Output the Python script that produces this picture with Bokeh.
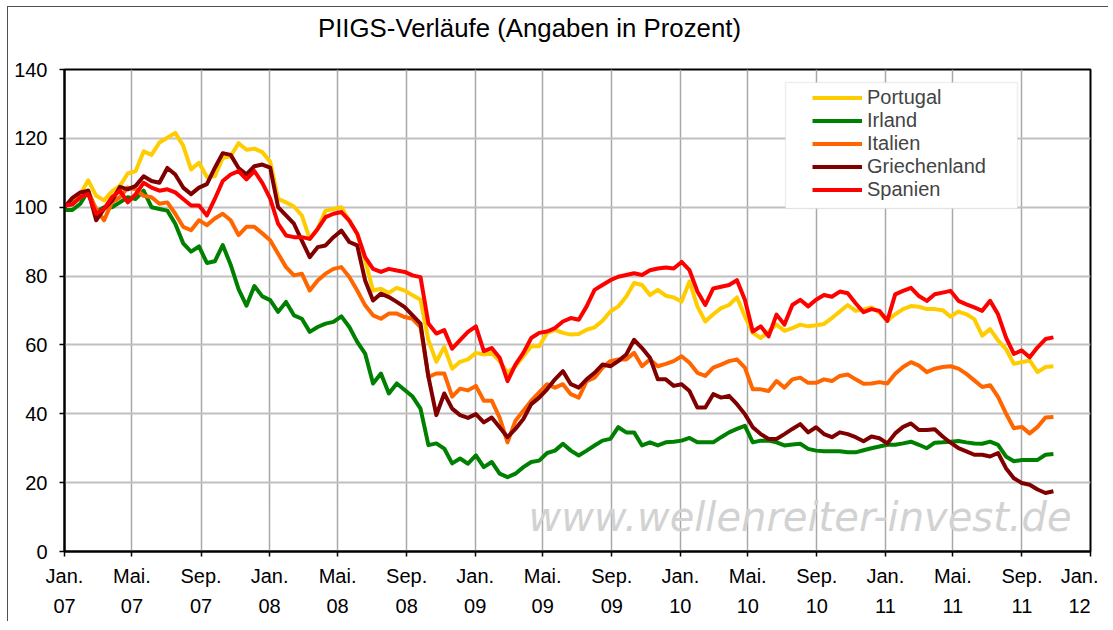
import pandas as pd
from bokeh.plotting import figure
from bokeh.layouts import column
from bokeh.models import (FixedTicker, Legend, LegendItem, Label, BoxAnnotation,
                          ColumnDataSource, Range1d, Div)
from bokeh.embed import file_html
from bokeh.resources import INLINE

# ---------------- data (biweekly) ----------------
dates = pd.date_range("2007-01-01", "2011-10-27", periods=126)

portugal = [100, 101.9, 103.8, 107.8, 103.3, 102, 104.6, 106.2, 109.8, 110.5,
            116.2, 115.2, 118.8, 120.2, 121.6, 117.9, 111, 112.9, 108.8, 109,
            114.3, 114.8, 118.6, 116.7, 117, 116,
            113.2, 102.4, 101.4, 100.2, 97.6, 90.8, 93.7, 99, 99.5, 100,
            96.1, 92.3, 84.5, 75.8, 76.3, 75.1, 76.6, 75.8, 74.4, 73.1,
            61.4, 55.1, 59.4, 53.1, 55.1,
            55.8, 57.7, 57.2, 57.7, 55.3, 51.9, 53.8, 56.7, 59.6, 59.6,
            63.5, 64.4, 63.5, 63, 63.2, 64.4, 65.1, 67, 69.7, 71.2,
            74, 78, 77.4, 74.5, 76,
            74.3, 73.8, 72.6, 78.4, 71.2, 66.8, 68.9, 70.7, 71.6, 73.8,
            68.3, 63.5, 62, 63.9, 65.9, 64.1, 64.9, 65.9, 65.4, 65.7,
            66.1, 67.8, 69.7, 71.6, 69.9,
            70.3, 70.9, 69.4, 67, 68.9, 70.4, 71.3, 71.1, 70.4, 70.4,
            70.1, 68.2, 69.7, 68.9, 67.5, 62.7, 64.6, 61.3, 58.8, 54.5,
            55, 55.5, 52.1, 53.6, 53.8]

irland = [99.2, 99.2, 101, 104.8, 98.6, 100, 100, 101.4, 102.9, 102.4,
          104.8, 100, 99.5, 99, 95.2, 89.5, 87.1, 88.6, 83.8, 84.3,
          89, 83.3, 76.2, 71.4, 77.1, 74.1,
          73, 69.6, 72.5, 68.6, 67.6, 63.8, 65.2, 66.2, 66.7, 68.3,
          65.2, 60.9, 57.5, 48.8, 51.7, 45.9, 48.8, 46.9, 45, 41.5,
          30.9, 31.4, 29.9, 25.6, 27,
          25.5, 27.9, 24.5, 26, 22.6, 21.6, 22.6, 24.5, 26, 26.4,
          28.6, 29.3, 31.3, 29.3, 27.9, 29.3, 30.8, 32.2, 32.7, 36.1,
          34.6, 34.6, 30.8, 31.7, 30.8,
          31.7, 31.9, 32.2, 33, 31.7, 31.7, 31.7, 33.2, 34.6, 35.6,
          36.5, 31.7, 32.2, 32.2, 31.7, 30.8, 31.1, 31.3, 29.8, 29.3,
          29.1, 29.1, 29.1, 28.8, 28.8,
          29.4, 30, 30.5, 31, 31, 31.4, 31.9, 31, 30, 31.6,
          31.7, 31.9, 32.1, 31.7, 31.4, 31.3, 31.9, 31, 27.6, 26.2,
          26.6, 26.6, 26.6, 28.1, 28.3]

italien = [100.5, 101.1, 102.9, 104.3, 99.5, 96.2, 101.4, 102.9, 105.7, 105.2,
           103.3, 102.9, 101, 101.4, 98.1, 94.3, 93.3, 96.2, 94.8, 96.7,
           98.1, 96.2, 91.9, 94.3, 94.3, 92.4,
           90.4, 86.5, 82.6, 80.2, 80.7, 75.8, 78.7, 80.7, 82.1, 82.6,
           79.7, 75.8, 71.5, 68.6, 67.6, 69.1, 69.1, 68.1, 67.6, 65.2,
           50.7, 51.7, 51.7, 45, 47.3,
           46.8, 48.1, 43.8, 43.8, 38.9, 31.7, 38, 40.9, 43.8, 46.2,
           48.6, 47.6, 48.6, 45.7, 44.7, 49.5, 50.5, 53.4, 55.3, 55.8,
           55.8, 57.7, 53.8, 55.8, 53.8,
           54.5, 55.3, 56.7, 54.8, 51.9, 51, 53.4, 54.3, 55.3, 55.8,
           53.4, 47.1, 47.1, 46.6, 49.5, 47.6, 50, 50.5, 49, 49,
           50, 49.5, 51, 51.4, 50,
           48.7, 48.8, 49.2, 48.8, 51.6, 53.6, 55, 54, 52.1, 53.1,
           53.6, 53.8, 53.1, 51.6, 49.7, 47.8, 48.3, 44.9, 40.1, 35.8,
           36.2, 34.3, 36.2, 38.9, 39.1]

griechenland = [100, 102.7, 104.3, 104.8, 96.2, 99.5, 101.9, 105.9, 105.2, 106.2,
                109, 107.6, 107.1, 111.4, 109.5, 105.7, 103.8, 105.7, 106.7, 111.4,
                115.7, 115.2, 111.4, 109.5, 111.9, 112.4,
                111.5, 100, 97.6, 95.2, 90.3, 85.5, 88.4, 88.9, 91.3, 93.2,
                89.9, 88.9, 78.7, 72.9, 74.9, 73.9, 72.5, 71, 68.6, 66.2,
                50.7, 39.6, 45.9, 41.5, 39.6,
                38.8, 39.9, 37.5, 38.9, 36.1, 33.2, 35.6, 38.5, 42.8, 44.7,
                47.1, 50, 52.4, 48.6, 47.6, 50, 51.9, 54.3, 53.8, 55.3,
                57.2, 61.5, 59.1, 56.3, 50,
                50, 48.1, 48.6, 46.6, 41.8, 41.8, 45.7, 44.7, 45.2, 42.8,
                39.9, 36.1, 34.1, 32.7, 32.7, 34.1, 35.6, 37, 34.6, 36.1,
                34.1, 33.2, 34.6, 34.1, 33.2,
                32, 33.4, 32.9, 31.4, 34.3, 36.2, 37.2, 35.3, 35.3, 35.5,
                33.4, 31.6, 30, 29.1, 28.1, 28.1, 27.6, 28.6, 24.2, 21.3,
                19.9, 19.4, 18, 17, 17.5]

spanien = [100.5, 100.8, 102.9, 103.8, 98.1, 99.5, 102.9, 104.8, 101.4, 103.8,
           107.1, 105.7, 104.8, 105.2, 104.3, 102.4, 100.5, 100.5, 97.6, 102.4,
           107.6, 109.5, 110.5, 108.1, 110.5, 107.1,
           102.5, 95.2, 91.8, 91.3, 91.3, 90.8, 93.7, 97.1, 98.1, 98.6,
           96.1, 92.3, 85.5, 82.1, 81.2, 82.1, 81.6, 81.2, 80.2, 79.7,
           66.2, 63.3, 64.3, 58.9, 61.4,
           63.8, 65.4, 58.2, 59.1, 56.3, 49.5, 54.3, 57.7, 62, 63.5,
           63.9, 64.9, 66.8, 67.8, 67.3, 71.2, 76, 77.4, 78.8, 79.8,
           80.3, 80.8, 80.3, 81.7, 82.2,
           82.5, 82.2, 84.1, 81.7, 75.5, 71.6, 76.4, 76.9, 77.4, 78.8,
           73.1, 63.9, 65.4, 62.5, 68.8, 65.9, 71.6, 73.1, 71.2, 73.1,
           74.5, 74, 75.5, 75, 72.1,
           69.5, 70.4, 69.9, 67, 74.7, 75.7, 76.6, 74.2, 72.8, 74.7,
           75.2, 75.7, 72.8, 71.8, 70.9, 69.9, 72.8, 68.9, 62.2, 57.4,
           58.4, 56.4, 59.3, 61.7, 62.2]

series_names = ["Portugal", "Irland", "Italien", "Griechenland", "Spanien"]
series_values = [portugal, irland, italien, griechenland, spanien]
series_colors = ["#FFCC00", "#008000", "#FF6600", "#800000", "#FF0000"]

tick_dates = ["2007-01-01", "2007-05-01", "2007-09-01", "2008-01-01", "2008-05-01",
              "2008-09-01", "2009-01-01", "2009-05-01", "2009-09-01", "2010-01-01",
              "2010-05-01", "2010-09-01", "2011-01-01", "2011-05-01", "2011-09-01",
              "2012-01-01"]
tick_labels = ["Jan.\n07", "Mai.\n07", "Sep.\n07", "Jan.\n08", "Mai.\n08", "Sep.\n08",
               "Jan.\n09", "Mai.\n09", "Sep.\n09", "Jan.\n10", "Mai.\n10", "Sep.\n10",
               "Jan.\n11", "Mai.\n11", "Sep.\n11", "Jan.\n12"]
y_ticks = [0, 20, 40, 60, 80, 100, 120, 140]

title_text = "PIIGS-Verläufe (Angaben in Prozent)"
watermark_text = "www.wellenreiter-invest.de"

# ---------------- build ----------------
def to_ms(ts):
    return float(pd.Timestamp(ts).value // 10**6)

x_ms = [float(v) for v in (dates.asi8 // 10**6)]
tick_ms = [to_ms(d) for d in tick_dates]

FONT = "Liberation Sans"

title_div = Div(text=title_text, width=1090, height=40,
                styles={"font-family": FONT, "font-size": "25.8px", "color": "black",
                        "padding-left": "305px", "padding-top": "5px",
                        "line-height": "0.92", "white-space": "nowrap",
                        "background-color": "white"})

p = figure(frame_width=1026, frame_height=482,
           x_range=Range1d(tick_ms[0], tick_ms[-1]), y_range=Range1d(0, 140),
           output_backend="svg", toolbar_location=None,
           min_border_left=56, min_border_right=8, min_border_top=12,
           min_border_bottom=70, background_fill_color="white",
           border_fill_color="white")
p.outline_line_color = "black"
p.outline_line_width = 2

# axes
p.xaxis.ticker = FixedTicker(ticks=tick_ms)
p.xaxis.major_label_overrides = dict(zip(tick_ms, tick_labels))
p.yaxis.ticker = FixedTicker(ticks=y_ticks)
for ax in (p.xaxis, p.yaxis):
    ax.axis_line_color = "black"
    ax.axis_line_width = 2
    ax.major_tick_line_color = "black"
    ax.major_tick_line_width = 1.5
    ax.major_tick_out = 5
    ax.major_tick_in = 0
    ax.minor_tick_line_color = None
    ax.major_label_text_font = FONT
    ax.major_label_text_font_size = "20px"
    ax.major_label_text_color = "black"
p.xaxis.major_label_standoff = 8
p.xaxis.major_label_text_line_height = 1.4
p.yaxis.major_label_standoff = 12

# grids
p.xgrid.grid_line_color = "#a8a8a8"
p.xgrid.grid_line_width = 1.5
p.ygrid.grid_line_color = "#c0c0c0"
p.ygrid.grid_line_width = 2

# watermark
p.add_layout(Label(x=to_ms("2009-04-06"), y=9.9,
                   text=watermark_text, text_font="DejaVu Sans",
                   text_font_style="italic", text_font_size="40px",
                   text_color="#d2d2d2", text_baseline="alphabetic"))

# lines
items = []
for name, vals, col in zip(series_names, series_values, series_colors):
    src = ColumnDataSource(dict(x=x_ms, y=vals))
    r = p.line("x", "y", source=src, line_color=col, line_width=4,
               line_join="round")
    items.append(LegendItem(label=name, renderers=[r]))

# legend box and legend (screen units relative to the frame)
p.add_layout(BoxAnnotation(left=721, right=953, top=469, bottom=343,
                           left_units="screen", right_units="screen",
                           top_units="screen", bottom_units="screen",
                           fill_color="white", fill_alpha=1,
                           line_color="#c8c8c8", line_width=1.5))
legend = Legend(items=items, location=(748, 350), padding=0, margin=0, spacing=0,
                label_standoff=5, glyph_width=50, glyph_height=23, label_height=23,
                label_text_font=FONT, label_text_font_size="20px",
                border_line_alpha=0, background_fill_alpha=0)
p.add_layout(legend)

layout = column(title_div, p, spacing=0,
                styles={"margin-left": "7px", "margin-top": "6px",
                        "border-left": "1px solid #505050",
                        "border-top": "1px solid #505050",
                        "background-color": "white"})

open("out.html", "w").write(file_html(layout, INLINE))
